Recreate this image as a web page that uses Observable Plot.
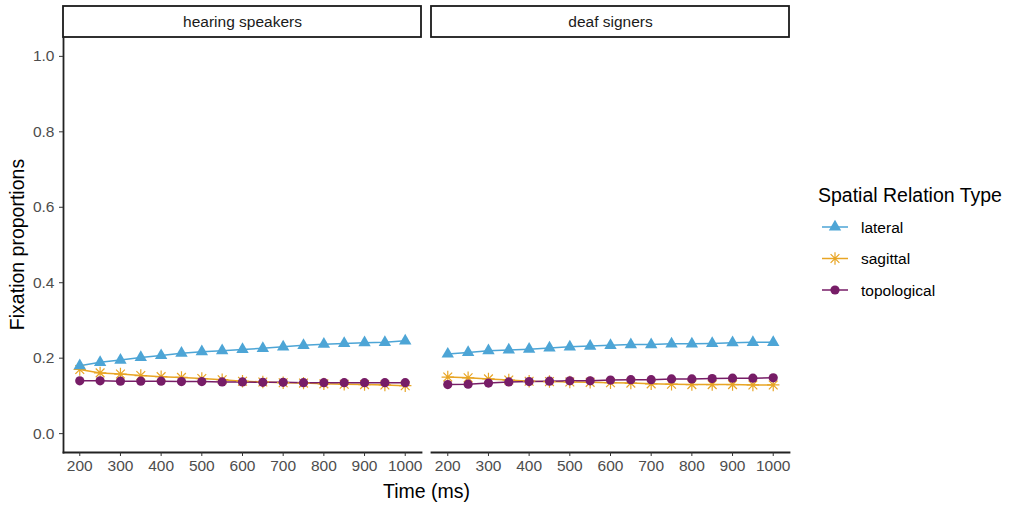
<!DOCTYPE html>
<html>
<head>
<meta charset="utf-8">
<script src="https://cdn.jsdelivr.net/npm/d3@7"></script>
<script src="https://cdn.jsdelivr.net/npm/@observablehq/plot@0.6"></script>
<style>
  html, body { margin: 0; padding: 0; background: #fff; }
  #chart { width: 1015px; height: 505px; }
</style>
</head>
<body>
<div id="chart"></div>
<script>
// ---- data ----
const times = [200, 250, 300, 350, 400, 450, 500, 550, 600, 650, 700, 750, 800, 850, 900, 950, 1000];
const groups = ["hearing speakers", "deaf signers"];
const series = ["lateral", "sagittal", "topological"];
const seriesColors = ["#4DA5D6", "#E8A524", "#771D67"];

const hearingLateral     = [0.180, 0.189, 0.195, 0.202, 0.207, 0.213, 0.217, 0.220, 0.223, 0.226, 0.230, 0.234, 0.237, 0.239, 0.241, 0.242, 0.246];
const hearingSagittal    = [0.170, 0.161, 0.158, 0.154, 0.151, 0.149, 0.146, 0.143, 0.139, 0.137, 0.135, 0.134, 0.132, 0.131, 0.130, 0.129, 0.127];
const hearingTopological = [0.140, 0.140, 0.139, 0.139, 0.139, 0.138, 0.138, 0.137, 0.137, 0.136, 0.136, 0.135, 0.135, 0.135, 0.135, 0.135, 0.135];
const deafLateral        = [0.211, 0.215, 0.220, 0.222, 0.224, 0.227, 0.230, 0.232, 0.234, 0.236, 0.236, 0.238, 0.238, 0.239, 0.241, 0.242, 0.242];
const deafSagittal       = [0.150, 0.148, 0.145, 0.142, 0.139, 0.138, 0.137, 0.136, 0.135, 0.134, 0.132, 0.131, 0.130, 0.130, 0.130, 0.129, 0.129];
const deafTopological    = [0.130, 0.131, 0.134, 0.137, 0.138, 0.139, 0.140, 0.140, 0.142, 0.143, 0.143, 0.145, 0.145, 0.146, 0.147, 0.147, 0.148];

const xTicks = [200, 300, 400, 500, 600, 700, 800, 900, 1000];
const yTicks = [0, 0.2, 0.4, 0.6, 0.8, 1.0];
const xTitle = "Time (ms)";
const yTitle = "Fixation proportions";
const legendTitle = "Spatial Relation Type";

// ---- build table ----
const valueTable = {
  "hearing speakers": {lateral: hearingLateral, sagittal: hearingSagittal, topological: hearingTopological},
  "deaf signers": {lateral: deafLateral, sagittal: deafSagittal, topological: deafTopological}
};
const rows = [];
for (const g of groups) for (const s of series) times.forEach((t, i) => rows.push({group: g, series: s, time: t, value: valueTable[g][s][i]}));

// ggplot-like 8-arm asterisk (shape 8)
const asterisk = {
  draw(context, size) {
    const r = Math.sqrt(size / Math.PI);
    const d = r * Math.SQRT1_2;
    context.moveTo(-r, 0); context.lineTo(r, 0);
    context.moveTo(0, -r); context.lineTo(0, r);
    context.moveTo(-d, -d); context.lineTo(d, d);
    context.moveTo(-d, d); context.lineTo(d, -d);
  }
};
const symbolFor = {lateral: d3.symbolTriangle, sagittal: asterisk, topological: d3.symbolCircle};
const radiusFor = {lateral: 4.6, sagittal: 6.2, topological: 4.6};

const font = "'Liberation Sans', Arial, sans-serif";
const W = 1015, H = 505;
const mL = 63, mR = 225, mT = 37, mB = 53;

const dotMark = (s) => Plot.dot(rows.filter(d => d.series === s), {
  fx: "group", x: "time", y: "value",
  symbol: symbolFor[s], r: radiusFor[s],
  fill: s === "sagittal" ? "none" : "series",
  stroke: s === "sagittal" ? "series" : "none",
  strokeWidth: 1.2
});

const plot = Plot.plot({
  width: W, height: H,
  marginTop: mT, marginBottom: mB, marginLeft: mL, marginRight: mR,
  style: {fontFamily: font, fontSize: "15.5px", color: "#4d4d4d", background: "#fff", overflow: "visible"},
  fx: {domain: groups, padding: 0.027, label: null},
  x: {domain: [160, 1040]},
  y: {domain: [-0.05, 1.05]},
  color: {domain: series, range: seriesColors},
  marks: [
    Plot.frame({anchor: "bottom", stroke: "#222", strokeWidth: 1.8}),
    Plot.frame({anchor: "left", facetAnchor: "left", stroke: "#222", strokeWidth: 1.8}),
    Plot.axisFx({anchor: "top", tickSize: 0, tickPadding: 11, label: null, fill: "#1a1a1a", fontSize: 15.5}),
    Plot.axisX({ticks: xTicks, tickSize: 4, tickPadding: 3, label: null, tickFormat: d => String(d), stroke: "#333", fontSize: 15.5}),
    Plot.axisY({ticks: yTicks, tickSize: 4, tickPadding: 5, label: null, tickFormat: d3.format(".1f"), stroke: "#333", fontSize: 15.5}),
    Plot.line(rows, {fx: "group", x: "time", y: "value", z: "series", stroke: "series", strokeWidth: 1.5}),
    dotMark("sagittal"),
    dotMark("lateral"),
    dotMark("topological")
  ]
});

document.getElementById("chart").append(plot);

// ---- post-processing: strips, titles, legend ----
const svg = d3.select(plot);
const fx = plot.scale("fx");
const bw = fx.bandwidth;
const strips = svg.insert("g", ":first-child");
groups.forEach(g => {
  const x0 = fx.apply(g);
  strips.append("rect")
    .attr("x", x0).attr("y", 6).attr("width", bw).attr("height", mT - 6)
    .attr("fill", "#fff").attr("stroke", "#1a1a1a").attr("stroke-width", 1.8);
});
const plotLeft = mL, plotRight = W - mR;

svg.append("text")
  .attr("x", (plotLeft + plotRight) / 2).attr("y", 491)
  .attr("text-anchor", "middle").attr("dominant-baseline", "central")
  .attr("fill", "#000").style("font-size", "19.5px").style("font-family", font)
  .text(xTitle);

svg.append("text")
  .attr("transform", `translate(17,${(mT + H - mB) / 2}) rotate(-90)`)
  .attr("text-anchor", "middle").attr("dominant-baseline", "central")
  .attr("fill", "#000").style("font-size", "19.5px").style("font-family", font)
  .text(yTitle);

const lg = svg.append("g").attr("transform", "translate(818,0)").attr("text-anchor", "start");
lg.append("text")
  .attr("x", 0).attr("y", 195).attr("dominant-baseline", "central").attr("text-anchor", "start")
  .attr("fill", "#000").style("font-size", "19.5px").style("font-family", font)
  .text(legendTitle);
const color = plot.scale("color");
series.forEach((s, i) => {
  const cy = 227 + i * 31.5;
  const c = color.apply(s);
  const gi = lg.append("g").attr("transform", `translate(0,${cy})`);
  gi.append("line").attr("x1", 4).attr("x2", 30).attr("y1", 0).attr("y2", 0)
    .attr("stroke", c).attr("stroke-width", 1.5);
  const r = radiusFor[s];
  gi.append("path")
    .attr("transform", "translate(17,0)")
    .attr("d", d3.symbol(symbolFor[s], Math.PI * r * r)())
    .attr("fill", s === "sagittal" ? "none" : c)
    .attr("stroke", s === "sagittal" ? c : "none")
    .attr("stroke-width", 1.2);
  gi.append("text").attr("x", 43).attr("y", 0).attr("dominant-baseline", "central").attr("text-anchor", "start")
    .attr("fill", "#000").style("font-size", "15.5px").style("font-family", font)
    .text(s);
});
</script>
</body>
</html>
